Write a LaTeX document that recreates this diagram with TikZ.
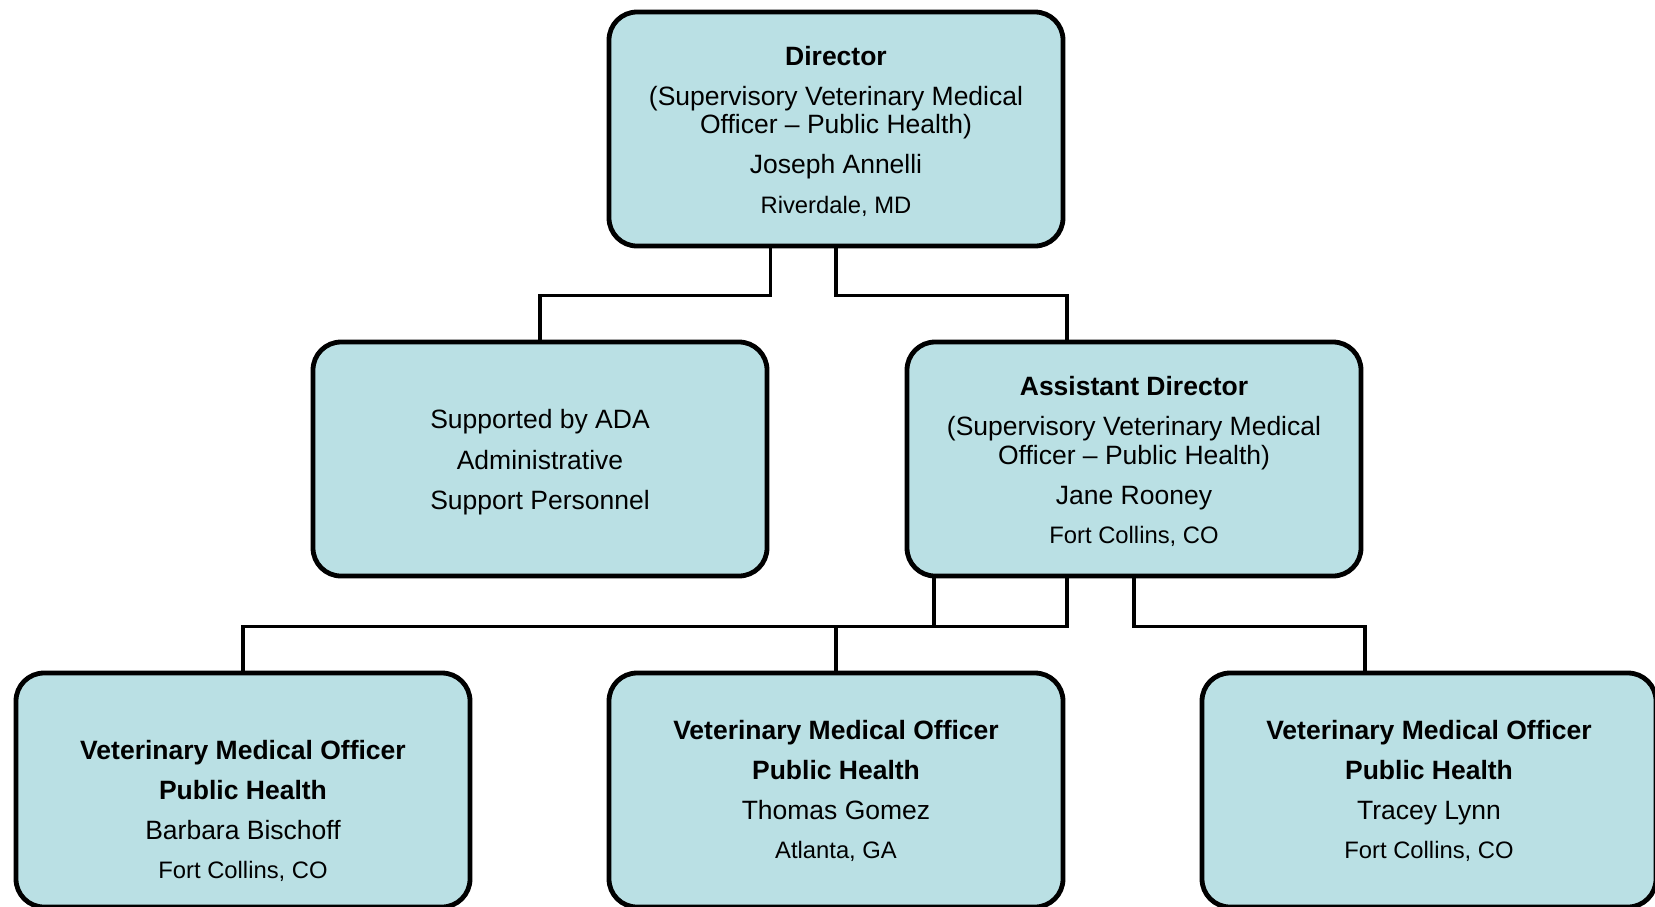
\documentclass[tikz,border=0pt]{standalone}
\usepackage{fontspec}
\setmainfont{Liberation Sans}
\definecolor{boxfill}{RGB}{186,224,228}
\newcommand{\fmain}{\fontsize{26.5}{28.5}\selectfont}
\newcommand{\fsml}{\fontsize{23.8}{28.5}\selectfont}
\begin{document}
\begin{tikzpicture}[x=1pt,y=-1pt,
  box/.style={draw=black, line width=4.8pt, fill=boxfill, rounded corners=28pt,
    minimum width=454pt, minimum height=234pt, inner sep=0pt},
  txt/.style={align=center, font=\fmain, inner sep=0pt},
  conn/.style={draw=black, line width=3.3pt}]
\useasboundingbox (0,0) rectangle (1655,906);
\clip (0,0) rectangle (1655,906);

\node[box] (dir) at (836,129) {};
\node[box] (ada) at (540,459) {};
\node[box] (asst) at (1134,459) {};
\node[box] (v1) at (243,790) {};
\node[box] (v2) at (836,790) {};
\node[box] (v3) at (1429,790) {};

\node[txt] (dirt) at ([yshift=-2pt]dir.center) {\textbf{Director}\\[11.5pt](Supervisory Veterinary Medical\\Officer – Public Health)\\[11.5pt]Joseph Annelli\\[11pt]{\fsml Riverdale, MD}};
\node[txt] (adat) at ([yshift=-3pt]ada.center) {Supported by ADA\\[12pt]Administrative\\[11.5pt]Support Personnel};
\node[txt] (asstt) at ([yshift=-2.5pt]asst.center) {\textbf{Assistant Director}\\[11.5pt](Supervisory Veterinary Medical\\Officer – Public Health)\\[11.5pt]Jane Rooney\\[11pt]{\fsml Fort Collins, CO}};
\node[txt] (v1t) at ([yshift=-21pt]v1.center) {\textbf{Veterinary Medical Officer}\\[11.5pt]\textbf{Public Health}\\[11.5pt]Barbara Bischoff\\[10pt]{\fsml Fort Collins, CO}};
\node[txt] (v2t) at ([yshift=-1pt]v2.center) {\textbf{Veterinary Medical Officer}\\[11.5pt]\textbf{Public Health}\\[11.5pt]Thomas Gomez\\[10pt]{\fsml Atlanta, GA}};
\node[txt] (v3t) at ([yshift=-1pt]v3.center) {\textbf{Veterinary Medical Officer}\\[11.5pt]\textbf{Public Health}\\[11.5pt]Tracey Lynn\\[10pt]{\fsml Fort Collins, CO}};

\draw[conn] ([xshift=-65.5pt]dir.south) -- ++(0,47) -| (ada.north);
\draw[conn] (dir.south) -- ++(0,47) -| ([xshift=-67pt]asst.north);
\draw[conn] ([xshift=-200pt]asst.south) -- ++(0,48) -| (v1.north);
\draw[conn] ([xshift=-67pt]asst.south) -- ++(0,48) -| (v2.north);
\draw[conn] (asst.south) -- ++(0,48) -| ([xshift=-64pt]v3.north);
\end{tikzpicture}
\end{document}
